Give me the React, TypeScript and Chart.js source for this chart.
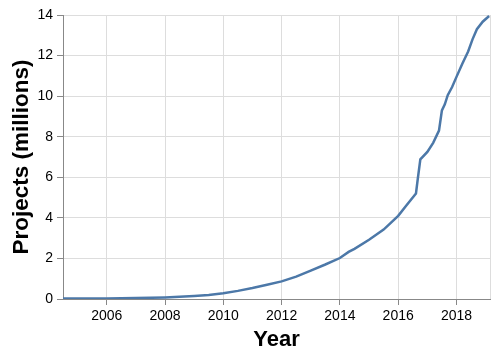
import React, { useEffect, useRef } from "react";
import { Chart, registerables } from "chart.js";

Chart.register(...registerables);

const years = [
  2004.5, 2005, 2005.5, 2006, 2006.5, 2007, 2007.5, 2008, 2008.5, 2009, 2009.5,
  2010, 2010.5, 2011, 2011.5, 2012, 2012.5, 2013, 2013.5, 2014, 2014.3, 2014.5,
  2015, 2015.5, 2016, 2016.3, 2016.61, 2016.67, 2016.76, 2017, 2017.2, 2017.4,
  2017.5, 2017.6, 2017.7, 2017.85, 2018, 2018.2, 2018.4, 2018.55, 2018.7,
  2018.9, 2019.12,
];
const projects = [
  0.02, 0.02, 0.03, 0.03, 0.04, 0.05, 0.06, 0.08, 0.11, 0.15, 0.2,
  0.28, 0.4, 0.54, 0.7, 0.87, 1.1, 1.4, 1.7, 2.02, 2.32, 2.47,
  2.92, 3.42, 4.1, 4.65, 5.2, 5.9, 6.88, 7.25, 7.7, 8.3,
  9.3, 9.6, 10.05, 10.45, 10.95, 11.6, 12.2, 12.8, 13.3,
  13.67, 13.95,
];
const xTicks = [2006, 2008, 2010, 2012, 2014, 2016, 2018];
const yTicks = [0, 2, 4, 6, 8, 10, 12, 14];

const FONT = "'Liberation Sans', Arial, Helvetica, sans-serif";

export default function App() {
  const ref = useRef<HTMLCanvasElement | null>(null);
  useEffect(() => {
    if (!ref.current) return;
    const frame = {
      id: "frame",
      beforeDatasetsDraw(chart: any) {
        const { top, right, bottom } = chart.chartArea;
        const ctx = chart.ctx;
        ctx.save();
        ctx.strokeStyle = "#ddd";
        ctx.lineWidth = 1;
        ctx.beginPath();
        ctx.moveTo(Math.round(right) + 0.5, top);
        ctx.lineTo(Math.round(right) + 0.5, bottom);
        ctx.stroke();
        ctx.restore();
      },
    };
    const chart = new Chart(ref.current, {
      type: "line",
      data: {
        datasets: [
          {
            data: years.map((y, i) => ({ x: y, y: projects[i] })),
            borderColor: "#4c78a8",
            borderWidth: 2.5,
            pointRadius: 0,
            tension: 0,
            fill: false,
          },
        ],
      },
      options: {
        animation: false,
        responsive: false,
        maintainAspectRatio: false,
        layout: { padding: { top: 15, right: 10, left: 0, bottom: 0 } },
        plugins: { legend: { display: false }, tooltip: { enabled: false } },
        scales: {
          x: {
            type: "linear",
            min: 2004.5,
            max: 2019.15,
            afterBuildTicks: (s: any) => {
              s.ticks = xTicks.map((v) => ({ value: v }));
            },
            afterFit: (s: any) => {
              s.height = 60;
            },
            grid: { color: "#ddd", tickColor: "#888", tickLength: 6, drawTicks: true },
            border: { color: "#888", width: 1 },
            ticks: {
              color: "#000",
              font: { family: FONT, size: 14 },
              padding: 3,
              maxRotation: 0,
              callback: (v: any) => String(v),
            },
            title: {
              display: true,
              text: "Year",
              color: "#000",
              font: { family: FONT, size: 22, weight: "bold" },
              padding: { top: 0, bottom: 6 },
            },
          },
          y: {
            type: "linear",
            min: 0,
            max: 14,
            afterBuildTicks: (s: any) => {
              s.ticks = yTicks.map((v) => ({ value: v }));
            },
            afterFit: (s: any) => {
              s.width = 63;
            },
            grid: { color: "#ddd", tickColor: "#888", tickLength: 6, drawTicks: true },
            border: { color: "#888", width: 1 },
            ticks: {
              color: "#000",
              font: { family: FONT, size: 14 },
              padding: 4,
              callback: (v: any) => String(v),
            },
            title: {
              display: true,
              text: "Projects (millions)",
              color: "#000",
              font: { family: FONT, size: 22.5, weight: "bold" },
              padding: { top: 8, bottom: 0 },
            },
          },
        },
      },
      plugins: [frame],
    });
    return () => chart.destroy();
  }, []);
  return (
    <div style={{ position: "fixed", left: 0, top: 0, width: 500, height: 359, background: "#fff" }}>
      <canvas ref={ref} width={500} height={359} style={{ width: 500, height: 359, display: "block" }} />
    </div>
  );
}
